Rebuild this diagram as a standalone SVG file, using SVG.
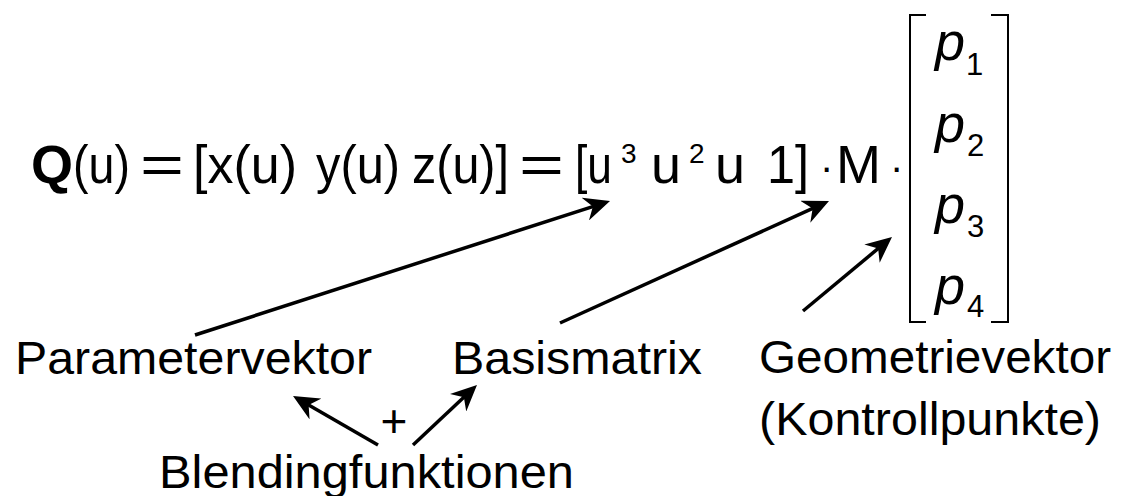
<svg xmlns="http://www.w3.org/2000/svg" width="1122" height="496" viewBox="0 0 1122 496">
<style>
.f{font-family:"Liberation Sans",Arial,sans-serif;font-size:54px;fill:#000}
.b{font-weight:bold}
.it{font-style:italic}
.sup{font-family:"Liberation Sans",Arial,sans-serif;font-size:28px;fill:#000}
.sub{font-family:"Liberation Sans",Arial,sans-serif;font-size:31px;fill:#000}
.dot{font-family:"Liberation Sans",Arial,sans-serif;font-size:40px;fill:#000}
.lbl{font-family:"Liberation Sans",Arial,sans-serif;font-size:46px;fill:#000}
.br{fill:none;stroke:#000;stroke-width:2}
.con{fill:none;stroke:#000;stroke-width:3.5;marker-end:url(#ah)}
</style>
<defs>
<marker id="ah" markerUnits="userSpaceOnUse" markerWidth="26" markerHeight="24" refX="16" refY="12" orient="auto" viewBox="0 0 26 24">
<path d="M0,0 L26,12 L0,24 L8,12 Z" fill="#000"/>
</marker>
</defs>
<rect width="1122" height="496" fill="#fff"/>
<g id="formula">
<text class="f b" x="31" y="183" textLength="42" lengthAdjust="spacingAndGlyphs">Q</text>
<text class="f" x="73" y="183" textLength="57" lengthAdjust="spacingAndGlyphs">(u)</text>
<text class="f" x="140" y="183" textLength="44" lengthAdjust="spacingAndGlyphs">=</text>
<text class="f" x="193" y="183" textLength="104" lengthAdjust="spacingAndGlyphs">[x(u)</text>
<text class="f" x="316" y="183" textLength="84" lengthAdjust="spacingAndGlyphs">y(u)</text>
<text class="f" x="412" y="183" textLength="97" lengthAdjust="spacingAndGlyphs">z(u)]</text>
<text class="f" x="519" y="183" textLength="45" lengthAdjust="spacingAndGlyphs">=</text>
<text class="f" x="575" y="183" textLength="37" lengthAdjust="spacingAndGlyphs">[u</text>
<text class="sup" x="621" y="163">3</text>
<text class="f" x="651" y="183">u</text>
<text class="sup" x="689" y="163">2</text>
<text class="f" x="715" y="183">u</text>
<text class="f" x="767" y="183" textLength="42" lengthAdjust="spacingAndGlyphs">1]</text>
<text class="dot" x="820" y="181">·</text>
<text class="f" x="836" y="183">M</text>
<text class="dot" x="890" y="181">·</text>
</g>
<g id="geometry-vector">
<path class="br" d="M926,15 H910 V322 H926"/>
<path class="br" d="M991,15 H1008 V322 H991"/>
<text class="f it" x="935" y="60">p</text>
<text class="sub" x="966" y="75">1</text>
<text class="f it" x="935" y="142">p</text>
<text class="sub" x="967" y="156">2</text>
<text class="f it" x="935" y="223">p</text>
<text class="sub" x="967" y="237">3</text>
<text class="f it" x="935" y="304">p</text>
<text class="sub" x="967" y="317">4</text>
</g>
<g id="label-parametervektor">
<text class="lbl" x="15" y="374" textLength="357" lengthAdjust="spacingAndGlyphs">Parametervektor</text>
</g>
<g id="label-basismatrix">
<text class="lbl" x="452" y="374" textLength="250" lengthAdjust="spacingAndGlyphs">Basismatrix</text>
</g>
<g id="label-geometrievektor">
<text class="lbl" x="759" y="373" textLength="352" lengthAdjust="spacingAndGlyphs">Geometrievektor</text>
<text class="lbl" x="759" y="435" textLength="342" lengthAdjust="spacingAndGlyphs">(Kontrollpunkte)</text>
</g>
<g id="label-blending">
<text class="lbl" x="159" y="488" textLength="415" lengthAdjust="spacingAndGlyphs">Blendingfunktionen</text>
</g>
<g id="plus">
<text class="lbl" x="394" y="437" text-anchor="middle">+</text>
</g>
<g id="connectors">
<line class="con" x1="195" y1="335" x2="600.5" y2="204.1"/>
<line class="con" x1="560" y1="323" x2="819.9" y2="205.1"/>
<line class="con" x1="803" y1="311" x2="884.3" y2="243.4"/>
<line class="con" x1="378" y1="445" x2="301.7" y2="401"/>
<line class="con" x1="413" y1="445" x2="469.7" y2="391.8"/>
</g>
</svg>
